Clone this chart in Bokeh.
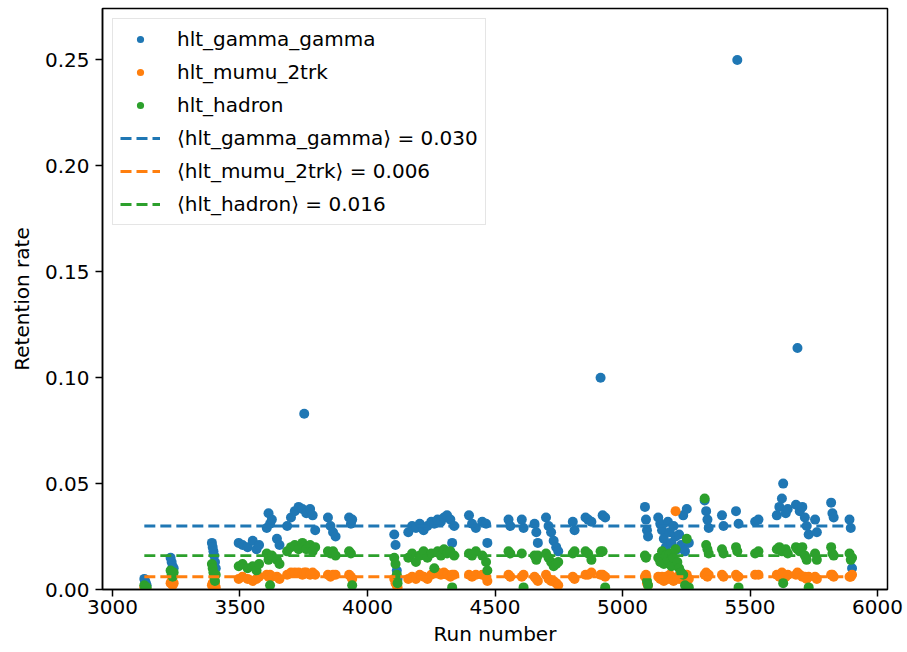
from bokeh.plotting import figure
from bokeh.models import Range1d, FixedTicker, NumeralTickFormatter, Legend, LegendItem
from bokeh.embed import file_html
from bokeh.resources import INLINE

# ---- data ----
runs = [3125, 3128, 3131, 3134,
        3228, 3232, 3236, 3240,
        3390, 3393, 3396, 3399, 3402, 3405,
        3495, 3510, 3530, 3550, 3565, 3575,
        3605, 3612, 3618, 3625, 3645, 3655,
        3685, 3700, 3715, 3730, 3745, 3752, 3760, 3775, 3785, 3795,
        3845, 3855, 3865, 3875,
        3928, 3935, 3940,
        4105, 4110, 4115, 4118,
        4160, 4175, 4190, 4205, 4220, 4235, 4250, 4262, 4275, 4288, 4300, 4312, 4325, 4332, 4340,
        4398, 4410, 4425, 4450, 4465, 4470,
        4553, 4560, 4605, 4612, 4655, 4662, 4668, 4700, 4710, 4720, 4730, 4740, 4748,
        4805, 4812, 4855, 4865, 4878, 4914, 4922, 4932,
        5088, 5092, 5096, 5100, 5140, 5148, 5155, 5162, 5170, 5178, 5185, 5192, 5200, 5208,
        5215, 5222, 5230, 5238, 5245, 5252, 5260,
        5322, 5328, 5333, 5338,
        5390, 5396, 5445, 5450, 5455, 5520, 5533,
        5605, 5615, 5625, 5630, 5640, 5648, 5680, 5686, 5695, 5705, 5715, 5722, 5730,
        5755, 5762, 5818, 5823, 5828, 5890, 5895, 5900]

hlt_gamma_gamma = [0.005, 0.004, 0.003, 0.002,
                   0.015, 0.013, 0.011, 0.010,
                   0.022, 0.020, 0.018, 0.016, 0.013, 0.010,
                   0.022, 0.021, 0.020, 0.023, 0.019, 0.021,
                   0.029, 0.036, 0.031, 0.033, 0.024, 0.021,
                   0.030, 0.034, 0.037, 0.039, 0.038, 0.083, 0.036, 0.038, 0.035, 0.028,
                   0.034, 0.030, 0.027, 0.025,
                   0.034, 0.031, 0.033,
                   0.026, 0.021, 0.009, 0.005,
                   0.027, 0.030, 0.029, 0.031, 0.028, 0.030, 0.032, 0.031, 0.033, 0.032, 0.034, 0.035, 0.033, 0.022, 0.030,
                   0.035, 0.031, 0.029, 0.032, 0.031, 0.022,
                   0.033, 0.030, 0.033, 0.029, 0.031, 0.027, 0.022, 0.034, 0.030, 0.027, 0.023, 0.020, 0.018,
                   0.032, 0.028, 0.034, 0.033, 0.032, 0.100, 0.035, 0.034,
                   0.039, 0.033, 0.028, 0.025, 0.034, 0.031, 0.028, 0.024, 0.020, 0.032, 0.027, 0.022, 0.030, 0.025,
                   0.019, 0.026, 0.021, 0.035, 0.018, 0.038, 0.022,
                   0.042, 0.037, 0.033, 0.029,
                   0.035, 0.030, 0.037, 0.250, 0.031, 0.032, 0.033,
                   0.035, 0.039, 0.043, 0.050, 0.036, 0.038, 0.040, 0.114, 0.037, 0.039, 0.034, 0.030, 0.026,
                   0.033, 0.027, 0.041, 0.036, 0.034, 0.033, 0.029, 0.010]

hlt_mumu_2trk = [0.001, 0.000, 0.001, 0.000,
                 0.003, 0.004, 0.002, 0.003,
                 0.002, 0.003, 0.001, 0.002, 0.003, 0.001,
                 0.005, 0.006, 0.005, 0.004, 0.005, 0.006,
                 0.007, 0.006, 0.007, 0.006, 0.006, 0.005,
                 0.007, 0.008, 0.008, 0.008, 0.007, 0.008, 0.008, 0.007, 0.008, 0.007,
                 0.007, 0.006, 0.007, 0.007,
                 0.007, 0.006, 0.005,
                 0.005, 0.003, 0.002, 0.001,
                 0.005, 0.006, 0.005, 0.007, 0.006, 0.005, 0.007, 0.008, 0.008, 0.007, 0.008, 0.007, 0.006, 0.007, 0.007,
                 0.007, 0.006, 0.007, 0.007, 0.006, 0.004,
                 0.007, 0.006, 0.006, 0.007, 0.006, 0.005, 0.004, 0.007, 0.005, 0.004, 0.004, 0.003, 0.002,
                 0.006, 0.005, 0.007, 0.007, 0.008, 0.007, 0.007, 0.006,
                 0.006, 0.007, 0.003, 0.002, 0.006, 0.005, 0.006, 0.004, 0.006, 0.005, 0.007, 0.005, 0.004, 0.037,
                 0.006, 0.005, 0.006, 0.005, 0.006, 0.007, 0.005,
                 0.007, 0.008, 0.006, 0.007,
                 0.007, 0.006, 0.007, 0.006, 0.006, 0.007, 0.007,
                 0.007, 0.006, 0.008, 0.007, 0.006, 0.007, 0.007, 0.008, 0.007, 0.006, 0.006, 0.005, 0.006,
                 0.006, 0.005, 0.007, 0.007, 0.006, 0.006, 0.006, 0.007]

hlt_hadron = [0.002, 0.001, 0.000, 0.001,
              0.009, 0.007, 0.006, 0.008,
              0.012, 0.010, 0.008, 0.006, 0.004, 0.007,
              0.011, 0.012, 0.010, 0.011, 0.009, 0.012,
              0.017, 0.014, 0.002, 0.016, 0.014, 0.012,
              0.018, 0.020, 0.021, 0.019, 0.022, 0.020, 0.019, 0.021, 0.018, 0.020,
              0.018, 0.017, 0.018, 0.016,
              0.018, 0.017, 0.002,
              0.015, 0.012, 0.007, 0.003,
              0.015, 0.017, 0.013, 0.016, 0.018, 0.015, 0.017, 0.010, 0.018, 0.016, 0.019, 0.017, 0.018, 0.001, 0.016,
              0.017, 0.016, 0.018, 0.016, 0.013, 0.009,
              0.018, 0.017, 0.017, 0.001, 0.016, 0.014, 0.016, 0.017, 0.015, 0.013, 0.011, 0.012, 0.013,
              0.017, 0.018, 0.018, 0.017, 0.014, 0.018, 0.018, 0.001,
              0.016, 0.015, 0.004, 0.002, 0.015, 0.013, 0.018, 0.012, 0.016, 0.014, 0.017, 0.011, 0.015, 0.019,
              0.013, 0.010, 0.008, 0.007, 0.002, 0.024, 0.001,
              0.043, 0.021, 0.019, 0.017,
              0.019, 0.017, 0.020, 0.018, 0.001, 0.017, 0.018,
              0.019, 0.020, 0.018, 0.003, 0.019, 0.017, 0.020, 0.019, 0.018, 0.020, 0.016, 0.014, 0.001,
              0.017, 0.014, 0.020, 0.017, 0.016, 0.017, 0.014, 0.015]

series_names = ["hlt_gamma_gamma", "hlt_mumu_2trk", "hlt_hadron"]
series_means = [0.030, 0.006, 0.016]
colors = ["#1f77b4", "#ff7f0e", "#2ca02c"]
x_ticks = [3000, 3500, 4000, 4500, 5000, 5500, 6000]
y_ticks = [0.00, 0.05, 0.10, 0.15, 0.20, 0.25]

FONT = "DejaVu Sans"
FS = "20px"

p = figure(width=907, height=652, output_backend="svg", toolbar_location=None,
           x_range=Range1d(2961, 6039), y_range=Range1d(0, 0.2743),
           min_border_left=102, min_border_right=20, min_border_top=8, min_border_bottom=63)
p.xgrid.visible = False
p.ygrid.visible = False
p.outline_line_color = "black"
p.outline_line_width = 1.5
p.background_fill_color = "white"
p.border_fill_color = "white"

values = [hlt_gamma_gamma, hlt_mumu_2trk, hlt_hadron]
dot_renderers = []
for vals, c in zip(values, colors):
    r = p.scatter(runs, vals, size=10, fill_color=c, line_color=c, line_width=0)
    dot_renderers.append(r)

line_renderers = []
xmin, xmax = min(runs), max(runs)
for m, c in zip(series_means, colors):
    r = p.line([xmin, xmax], [m, m], line_color=c, line_width=2.9, line_dash="11 5")
    line_renderers.append(r)

items = []
for name, r in zip(series_names, dot_renderers):
    items.append(LegendItem(label=name, renderers=[r]))
for name, m, r in zip(series_names, series_means, line_renderers):
    items.append(LegendItem(label="\u27e8%s\u27e9 = %.3f" % (name, m), renderers=[r]))

legend = Legend(items=items, location="top_left", margin=10, padding=7,
                glyph_width=40, glyph_height=18, label_height=26, spacing=7,
                label_standoff=17, label_text_font=FONT, label_text_font_size=FS,
                label_text_color="black",
                border_line_color="#cccccc", border_line_width=1.2,
                background_fill_color="white", background_fill_alpha=0.8)
p.add_layout(legend)

for ax in (p.xaxis[0], p.yaxis[0]):
    ax.axis_line_color = "black"
    ax.axis_line_width = 1.5
    ax.major_tick_line_color = "black"
    ax.major_tick_line_width = 1.5
    ax.major_tick_out = 7
    ax.major_tick_in = 0
    ax.minor_tick_line_color = None
    ax.major_label_text_font = FONT
    ax.major_label_text_font_size = FS
    ax.major_label_text_color = "black"
    ax.axis_label_text_font = FONT
    ax.axis_label_text_font_size = FS
    ax.axis_label_text_font_style = "normal"
    ax.axis_label_text_color = "black"

p.xaxis.ticker = FixedTicker(ticks=x_ticks)
p.yaxis.ticker = FixedTicker(ticks=y_ticks)
p.yaxis.formatter = NumeralTickFormatter(format="0.00")
p.xaxis.axis_label = "Run number"
p.yaxis.axis_label = "Retention rate"
p.xaxis.major_label_standoff = 3
p.yaxis.major_label_standoff = 6
p.xaxis.axis_label_standoff = 5
p.yaxis.axis_label_standoff = 8

open("out.html", "w").write(file_html(p, INLINE))
